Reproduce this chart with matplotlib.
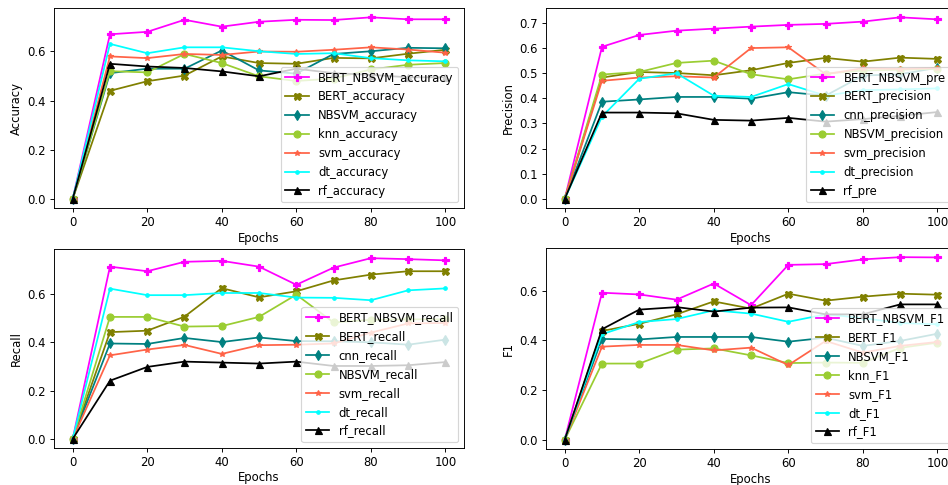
import matplotlib.pyplot as plt

epochs = [0, 10, 20, 30, 40, 50, 60, 70, 80, 90, 100]

# Accuracy
bert_nbsvm_acc = [0, 0.670, 0.680, 0.729, 0.701, 0.721, 0.729, 0.728, 0.739, 0.731, 0.731]
bert_acc = [0, 0.440, 0.479, 0.502, 0.580, 0.553, 0.550, 0.574, 0.572, 0.591, 0.607]
nbsvm_acc = [0, 0.512, 0.530, 0.530, 0.604, 0.523, 0.510, 0.590, 0.601, 0.615, 0.613]
knn_acc = [0, 0.520, 0.515, 0.590, 0.553, 0.499, 0.480, 0.490, 0.527, 0.546, 0.553]
svm_acc = [0, 0.580, 0.573, 0.590, 0.586, 0.600, 0.599, 0.607, 0.617, 0.608, 0.595]
dt_acc = [0, 0.631, 0.593, 0.617, 0.617, 0.601, 0.590, 0.593, 0.573, 0.564, 0.560]
rf_acc = [0, 0.550, 0.539, 0.533, 0.519, 0.499, 0.530, 0.512, 0.505, 0.495, 0.495]

# Precision
bert_nbsvm_pre = [0, 0.604, 0.651, 0.668, 0.676, 0.684, 0.691, 0.695, 0.704, 0.721, 0.713]
bert_pre = [0, 0.482, 0.504, 0.500, 0.491, 0.511, 0.540, 0.560, 0.545, 0.561, 0.556]
cnn_pre = [0, 0.386, 0.395, 0.405, 0.405, 0.398, 0.424, 0.410, 0.490, 0.495, 0.521]
nbsvm_pre = [0, 0.494, 0.504, 0.540, 0.549, 0.495, 0.475, 0.498, 0.510, 0.513, 0.517]
svm_pre = [0, 0.469, 0.482, 0.487, 0.482, 0.599, 0.602, 0.495, 0.519, 0.516, 0.520]
dt_pre = [0, 0.327, 0.477, 0.499, 0.410, 0.405, 0.456, 0.410, 0.432, 0.435, 0.439]
rf_pre = [0, 0.343, 0.343, 0.340, 0.314, 0.311, 0.322, 0.307, 0.317, 0.330, 0.345]

# Recall
bert_nbsvm_rec = [0, 0.713, 0.694, 0.733, 0.737, 0.713, 0.638, 0.709, 0.748, 0.744, 0.739]
bert_rec = [0, 0.442, 0.448, 0.506, 0.624, 0.586, 0.611, 0.656, 0.680, 0.694, 0.694]
cnn_rec = [0, 0.395, 0.393, 0.418, 0.401, 0.420, 0.405, 0.404, 0.400, 0.390, 0.411]
nbsvm_rec = [0, 0.505, 0.505, 0.465, 0.467, 0.505, 0.597, 0.482, 0.493, 0.495, 0.495]
svm_rec = [0, 0.346, 0.370, 0.389, 0.352, 0.388, 0.390, 0.395, 0.440, 0.478, 0.480]
dt_rec = [0, 0.622, 0.595, 0.595, 0.604, 0.604, 0.585, 0.584, 0.574, 0.615, 0.623]
rf_rec = [0, 0.241, 0.298, 0.320, 0.316, 0.312, 0.320, 0.302, 0.302, 0.305, 0.318]

# F1
bert_nbsvm_f1 = [0, 0.592, 0.585, 0.564, 0.629, 0.542, 0.704, 0.707, 0.726, 0.735, 0.734]
bert_f1 = [0, 0.438, 0.467, 0.505, 0.557, 0.528, 0.588, 0.560, 0.576, 0.588, 0.584]
nbsvm_f1 = [0, 0.406, 0.404, 0.414, 0.414, 0.414, 0.395, 0.411, 0.378, 0.398, 0.427]
knn_f1 = [0, 0.307, 0.307, 0.363, 0.368, 0.340, 0.309, 0.311, 0.310, 0.370, 0.391]
svm_f1 = [0, 0.375, 0.382, 0.382, 0.360, 0.371, 0.301, 0.398, 0.351, 0.378, 0.394]
dt_f1 = [0, 0.425, 0.474, 0.486, 0.521, 0.508, 0.475, 0.505, 0.490, 0.470, 0.465]
rf_f1 = [0, 0.445, 0.524, 0.534, 0.516, 0.532, 0.533, 0.505, 0.505, 0.545, 0.545]

styles = [
    ("magenta", "P"),
    ("olive", "X"),
    ("teal", "d"),
    ("yellowgreen", "o"),
    ("tomato", "*"),
    ("cyan", "."),
    ("black", "^"),
]

panels = [
    ([0.057, 0.571, 0.4325, 0.412], "Accuracy",
     [bert_nbsvm_acc, bert_acc, nbsvm_acc, knn_acc, svm_acc, dt_acc, rf_acc],
     ["BERT_NBSVM_accuracy", "BERT_accuracy", "NBSVM_accuracy", "knn_accuracy",
      "svm_accuracy", "dt_accuracy", "rf_accuracy"]),
    ([0.576, 0.571, 0.4325, 0.412], "Precision",
     [bert_nbsvm_pre, bert_pre, cnn_pre, nbsvm_pre, svm_pre, dt_pre, rf_pre],
     ["BERT_NBSVM_pre", "BERT_precision", "cnn_precision", "NBSVM_precision",
      "svm_precision", "dt_precision", "rf_pre"]),
    ([0.057, 0.0763, 0.4325, 0.41], "Recall",
     [bert_nbsvm_rec, bert_rec, cnn_rec, nbsvm_rec, svm_rec, dt_rec, rf_rec],
     ["BERT_NBSVM_recall", "BERT_recall", "cnn_recall", "NBSVM_recall",
      "svm_recall", "dt_recall", "rf_recall"]),
    ([0.576, 0.0742, 0.4325, 0.4144], "F1",
     [bert_nbsvm_f1, bert_f1, nbsvm_f1, knn_f1, svm_f1, dt_f1, rf_f1],
     ["BERT_NBSVM_F1", "BERT_F1", "NBSVM_F1", "knn_F1", "svm_F1", "dt_F1", "rf_F1"]),
]

# original looks like a 100 dpi figure shrunk to ~84%, so draw at 84 dpi
dpi = 84
fig = plt.figure(figsize=(948 / dpi, 485 / dpi), dpi=dpi)

for rect, ylabel, series, labels in panels:
    ax = fig.add_axes(rect)
    for vals, lab, (col, mk) in zip(series, labels, styles):
        ms = 6
        if mk == "*":
            ms = 5
        ax.plot(epochs, vals, color=col, marker=mk, markersize=ms, label=lab)
    ax.set_xlabel("Epochs", labelpad=2)
    ax.set_ylabel(ylabel)
    ax.legend(loc="lower right")

fig.savefig("out.png", dpi=dpi)
